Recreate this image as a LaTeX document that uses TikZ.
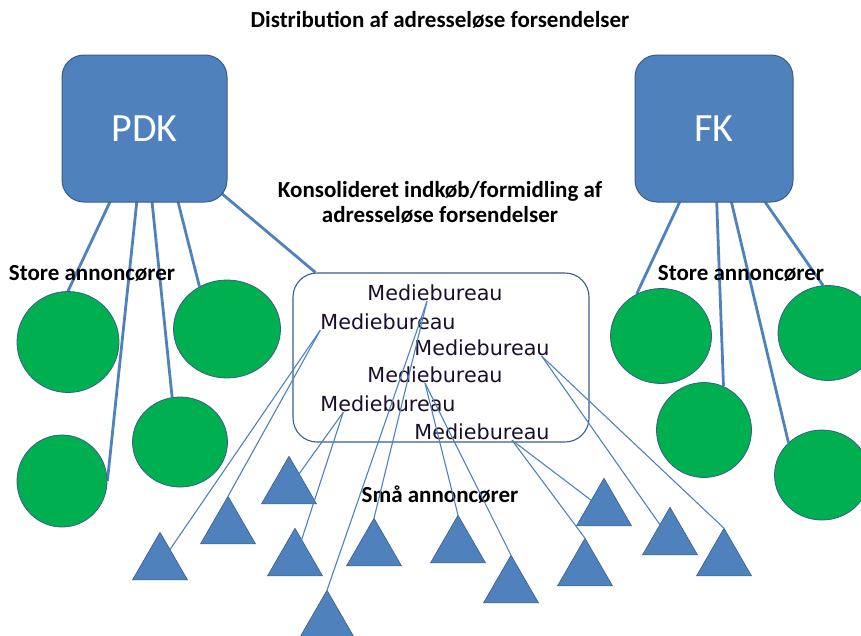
\documentclass[tikz,border=0pt]{standalone}
\usepackage{fontspec}
\setmainfont{Carlito}
\newfontfamily\mbfont{DejaVu Sans}
\usetikzlibrary{shapes.geometric,backgrounds,positioning}
\definecolor{BoxBlue}{RGB}{79,129,189}
\definecolor{EdgeBlue}{RGB}{56,93,138}
\definecolor{LeafGreen}{RGB}{0,176,80}
\definecolor{InkDark}{RGB}{25,15,45}
\tikzset{
  kbox/.style={draw=EdgeBlue,fill=BoxBlue,rounded corners=22pt,
               minimum width=165pt,minimum height=147pt,
               font=\fontsize{40}{44}\selectfont,text=white,line width=1pt},
  gcirc/.style={ellipse,draw=EdgeBlue,fill=LeafGreen,line width=0.8pt,inner sep=0pt},
  btri/.style={regular polygon,regular polygon sides=3,draw=EdgeBlue,fill=BoxBlue,
               minimum size=63.5pt,inner sep=0pt,outer sep=0pt,line width=0.6pt},
  mcont/.style={draw=EdgeBlue,rounded corners=24pt,minimum width=296pt,
                minimum height=169pt,line width=1.1pt},
  mtxt/.style={font=\mbfont\fontsize{20.7}{24}\selectfont,text=InkDark,inner sep=0pt},
  lbl/.style={font=\fontsize{23}{25}\selectfont\bfseries,align=center,inner sep=0pt},
  thk/.style={BoxBlue,line width=2.8pt},
  thn/.style={BoxBlue,line width=1.1pt},
}

\begin{document}
\begin{tikzpicture}[x=1pt,y=-1pt]
  \useasboundingbox (0,0) rectangle (861,635);
  % headings
  \node[lbl] (title) at (440,20) {Distribution af adresseløse forsendelser};
  \node[lbl] (cons) at (440,202) {Konsolideret indkøb/formidling af\\adresseløse forsendelser};
  \node[lbl] (storeL) at (92,273) {Store annoncører};
  \node[lbl] (storeR) at (741,273) {Store annoncører};
  \node[lbl] (smaa) at (440,495) {Små annoncører};

  % distributors
  \node[kbox] (pdk) at (144.5,128.5) {PDK};
  \node[kbox,minimum width=158pt] (fk) at (714,128.5) {FK};

  % large advertisers
  \node[gcirc,minimum width=102pt,minimum height=101pt] (c1) at (68,342) {};
  \node[gcirc,minimum width=107pt,minimum height=98pt] (c2) at (227,329) {};
  \node[gcirc,minimum width=95pt,minimum height=90pt] (c3) at (180,442) {};
  \node[gcirc,minimum width=90pt,minimum height=92pt] (c4) at (62,481) {};
  \node[gcirc,minimum width=101pt,minimum height=95pt] (r1) at (661,336) {};
  \node[gcirc,minimum width=100pt,minimum height=95pt] (r2) at (828,333) {};
  \node[gcirc,minimum width=95pt,minimum height=95pt] (r3) at (704,430) {};
  \node[gcirc,minimum width=95pt,minimum height=90pt] (r4) at (822,475) {};

  % media agencies
  \node[mcont] (mbox) at (441,357.5) {};
  \node[mtxt] (mb1) at (435,293) {Mediebureau};
  \node[mtxt] (mb2) at (388,322) {Mediebureau};
  \node[mtxt] (mb3) at (482,348) {Mediebureau};
  \node[mtxt] (mb4) at (435,375) {Mediebureau};
  \node[mtxt] (mb5) at (388,404) {Mediebureau};
  \node[mtxt] (mb6) at (482,432) {Mediebureau};

  % small advertisers
  \node[btri] (t1) at (160,564) {};
  \node[btri] (t2) at (228,528) {};
  \node[btri] (t3) at (289,488) {};
  \node[btri] (t4) at (295,560) {};
  \node[btri] (t5) at (374,550) {};
  \node[btri] (t6) at (327,622) {};
  \node[btri] (t7) at (458,547) {};
  \node[btri] (t8) at (511,587) {};
  \node[btri] (t9) at (585,570) {};
  \node[btri] (t10) at (604,510) {};
  \node[btri] (t11) at (670,539) {};
  \node[btri] (t12) at (724,560) {};

  \begin{scope}[on background layer]
    \draw[thk] (pdk.center) -- (c1.north);
    \draw[thk] (pdk.center) -- (c4.east);
    \draw[thk] (pdk.center) -- (c3.100);
    \draw[thk] ([xshift=15pt]pdk.center) -- (c2.123);
    \draw[thk] (pdk.center) -- ([xshift=23pt]mbox.north west);
    \draw[thk] (fk.center) -- (r1.120);
    \draw[thk] (fk.center) -- (r3.66);
    \draw[thk] (fk.center) -- (r4.136);
    \draw[thk] (fk.center) -- (r2.96);
  \end{scope}

  \draw[thn] (mb2.south west) -- (t1);
  \draw[thn] (mb2.south west) -- (t2.corner 1);
  \draw[thn] ([xshift=23pt]mb5.south west) -- (t3);
  \draw[thn] ([xshift=23pt]mb5.south west) -- (t4);
  \draw[thn] ([xshift=-8pt]mb1.south) -- (t6.corner 1);
  \draw[thn] ([xshift=-8pt]mb1.south) -- (t5.corner 1);
  \draw[thn] ([xshift=-10pt]mb4.south) -- (t7.corner 1);
  \draw[thn] ([xshift=-10pt]mb4.south) -- (t8.corner 1);
  \draw[thn] ([xshift=30pt]mb6.south) -- (t10);
  \draw[thn] ([xshift=30pt]mb6.south) -- (t9.corner 1);
  \draw[thn] ([xshift=-8pt]mb3.south east) -- (t11);
  \draw[thn] ([xshift=-8pt]mb3.south east) -- (t12.corner 1);
\end{tikzpicture}
\end{document}
